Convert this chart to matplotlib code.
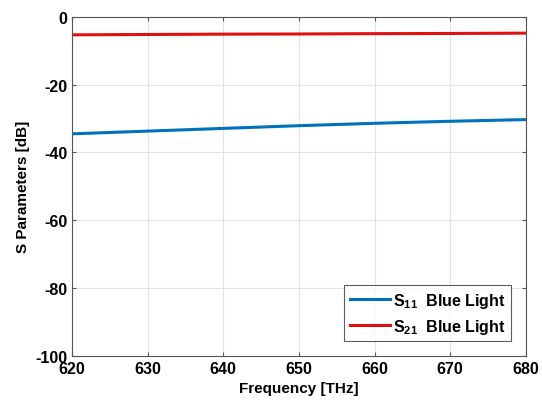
import numpy as np
import matplotlib
matplotlib.use("Agg")
import matplotlib.pyplot as plt

# valores
freq = [620, 630, 640, 650, 660, 670, 680]
s11 = [-34.5, -33.7, -32.9, -32.1, -31.4, -30.8, -30.3]
s21 = [-5.3, -5.2, -5.1, -5.05, -4.95, -4.9, -4.8]

plt.rcParams['font.family'] = ['Liberation Sans', 'DejaVu Sans']
plt.rcParams['font.weight'] = 'bold'
plt.rcParams['axes.unicode_minus'] = False
plt.rcParams['mathtext.fontset'] = 'custom'
plt.rcParams['mathtext.rm'] = 'Liberation Sans:bold'
plt.rcParams['mathtext.bf'] = 'Liberation Sans:bold'

fig = plt.figure(figsize=(5.42, 4.06), dpi=100)
ax = fig.add_axes([0.133, 0.121, 0.837, 0.835])

ax.plot(freq, s11, color='#0072BD', lw=2.2, label=r'$\mathrm{S_{11}}$  Blue Light')
ax.plot(freq, s21, color='#E01010', lw=2.2, label=r'$\mathrm{S_{21}}$  Blue Light')

ax.set_xlim(620, 680)
ax.set_ylim(-100, 0)
ax.set_xticks(freq)
ax.set_yticks([-100, -80, -60, -40, -20, 0])
ax.grid(True, color='#e3e3e3', lw=0.8)
ax.tick_params(direction='in', length=3, labelsize=11.5, color='#555555',
               top=True, right=True, labeltop=False, labelright=False)
for lab in ax.get_xticklabels() + ax.get_yticklabels():
    lab.set_fontweight('bold')
for sp in ax.spines.values():
    sp.set_color('#555555')

ax.set_xlabel('Frequency [THz]', fontsize=11, fontweight='bold')
ax.set_ylabel('S Parameters [dB]', fontsize=11, fontweight='bold')

leg = ax.legend(loc='lower right', fontsize=11.5, frameon=True, fancybox=False,
                edgecolor='#333333', borderpad=0.35, handlelength=2.5,
                handletextpad=0.2, labelspacing=0.45, borderaxespad=0.9)
leg.get_frame().set_linewidth(0.8)
for t in leg.get_texts():
    t.set_fontweight('bold')

fig.savefig('out.png', dpi=100)
